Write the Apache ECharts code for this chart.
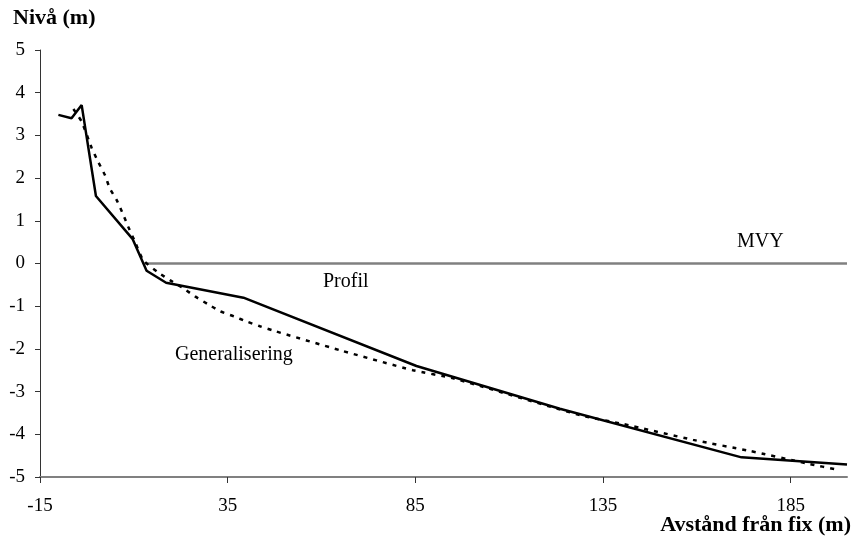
<!DOCTYPE html>
<html><head><meta charset="utf-8">
<script src="https://cdn.jsdelivr.net/npm/echarts@6/dist/echarts.min.js"></script>
<style>html,body{margin:0;padding:0;background:#fff}#c{width:855px;height:550px}</style>
</head><body><div id="c"></div>
<script>
const profilX = [-10.1, -6.6, -3.9, -0.1, 9.7, 13.4, 18.6, 39.2, 85.3, 123.5, 171.9, 200];
const profilY = [3.48, 3.40, 3.71, 1.58, 0.57, -0.17, -0.45, -0.80, -2.40, -3.40, -4.54, -4.71];
const genX = [-6.1, -3.9, -1.2, 0.5, 2.3, 3.6, 5.4, 7.2, 8.5, 10.3, 12.5, 16.5, 19.8, 23.0, 26.3, 29.7, 33.0, 36.7, 40.1, 43.6, 47.1, 64.9, 84.4, 95.1, 128.8, 140.4, 159.0, 174.1, 189.2, 198.1];
const genY = [3.62, 3.32, 2.70, 2.38, 2.07, 1.76, 1.49, 1.14, 0.86, 0.51, 0.08, -0.21, -0.40, -0.57, -0.77, -0.95, -1.12, -1.24, -1.36, -1.47, -1.57, -2.03, -2.50, -2.69, -3.55, -3.76, -4.13, -4.39, -4.68, -4.84];
const mvyX = [12.8, 200];
const mvyY = [0, 0];
const xTicks = [-15, 35, 85, 135, 185];
const yTicks = [-5, -4, -3, -2, -1, 0, 1, 2, 3, 4, 5];

const zip = (a, b) => a.map((v, i) => [v, b[i]]);
const font = 'Liberation Serif, Times New Roman, serif';

const chart = echarts.init(document.getElementById('c'));
chart.setOption({
  animation: false,
  grid: { left: 40, right: 8, top: 50, bottom: 73, containLabel: false },
  xAxis: {
    type: 'value', min: -15, max: 200,
    axisLine: { show: true, onZero: false, lineStyle: { color: '#808080', width: 2 } },
    axisTick: { show: true, customValues: xTicks, length: 6, lineStyle: { color: '#333', width: 1 } },
    axisLabel: { customValues: xTicks, color: '#000', fontFamily: font, fontSize: 19, margin: 20 },
    splitLine: { show: false }
  },
  yAxis: {
    type: 'value', min: -5, max: 5, interval: 1,
    axisLine: { show: true, onZero: false, lineStyle: { color: '#333', width: 1 } },
    axisTick: { show: true, customValues: yTicks, inside: false, length: 5, lineStyle: { color: '#333', width: 1 } },
    axisLabel: { customValues: yTicks, color: '#000', fontFamily: font, fontSize: 19, margin: 15 },
    splitLine: { show: false }
  },
  series: [
    { type: 'line', data: zip(mvyX, mvyY), symbol: 'none', lineStyle: { color: '#808080', width: 2.5 }, z: 1 },
    { type: 'line', data: zip(genX, genY), symbol: 'none', smooth: 0.2, lineStyle: { color: '#000', width: 2.5, type: [4, 6] }, z: 2 },
    { type: 'line', data: zip(profilX, profilY), symbol: 'none', lineStyle: { color: '#000', width: 2.5 }, z: 3 }
  ],
  graphic: [
    { type: 'text', left: 13, top: 7, style: { text: 'Nivå (m)', font: 'bold 22px ' + font, fill: '#000' } },
    { type: 'text', right: 4, top: 514, style: { text: 'Avstånd från fix (m)', font: 'bold 22px ' + font, fill: '#000' } },
    { type: 'text', left: 737, top: 232, style: { text: 'MVY', font: '20px ' + font, fill: '#000' } },
    { type: 'text', left: 323, top: 272, style: { text: 'Profil', font: '20px ' + font, fill: '#000' } },
    { type: 'text', left: 175, top: 345, style: { text: 'Generalisering', font: '20px ' + font, fill: '#000' } }
  ]
});
</script></body></html>
